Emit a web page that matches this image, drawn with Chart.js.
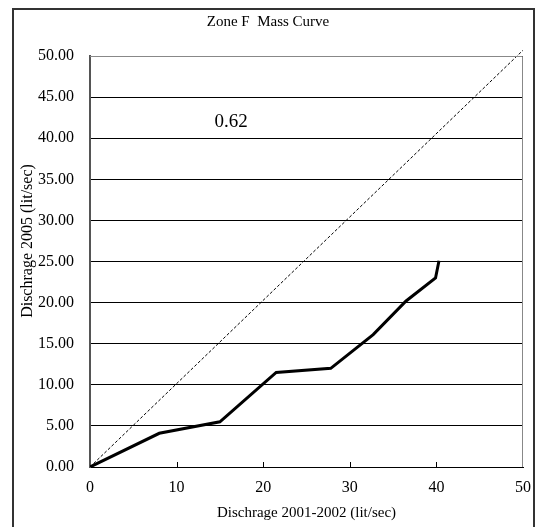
<!DOCTYPE html>
<html>
<head>
<meta charset="utf-8">
<script src="https://cdn.jsdelivr.net/npm/chart.js@4/dist/chart.umd.min.js"></script>
<style>
    html, body { margin: 0; padding: 0; background: #fff; }
    #wrap { width: 542px; height: 527px; }
</style>
</head>
<body>
<div id="wrap"><canvas id="massChart" width="542" height="527"></canvas></div>
<script>
// mass curve readings (lit/sec)
const xDischarge = [0, 8, 15, 21.5, 27.8, 32.7, 36.5, 39.9, 40.3];
const yDischarge = [0, 4.1, 5.5, 11.5, 12, 16.1, 20.2, 23, 25.1];
// reference 1:1 line
const refX = [0, 50];
const refY = [0, 50.7];

const chartTitle = "Zone F  Mass Curve";
const xTitle = "Dischrage 2001-2002 (lit/sec)";
const yTitle = "Dischrage 2005 (lit/sec)";
const ratioText = "0.62";
const ratioPos = [16.3, 42];

const FONT = "'Liberation Serif', 'Times New Roman', serif";

function toPoints(xs, ys) {
    return xs.map((x, i) => ({ x: x, y: ys[i] }));
}

const extras = {
    id: "extras",
    beforeDraw(chart) {
        const ctx = chart.ctx;
        ctx.save();
        ctx.fillStyle = "#fff";
        ctx.fillRect(0, 0, chart.width, chart.height);
        ctx.restore();
    },
    afterDraw(chart) {
        const ctx = chart.ctx;
        const a = chart.chartArea;
        const xs = chart.scales.x;
        const ys = chart.scales.y;
        ctx.save();

        // plot frame: grey top / right
        ctx.strokeStyle = "#888";
        ctx.lineWidth = 1;
        ctx.beginPath();
        ctx.moveTo(a.left, a.top + 0.5);
        ctx.lineTo(a.right - 0.5, a.top + 0.5);
        ctx.lineTo(a.right - 0.5, a.bottom);
        ctx.stroke();

        // small inside ticks on x axis
        ctx.strokeStyle = "#000";
        [10, 20, 30, 40].forEach(v => {
            const px = Math.round(xs.getPixelForValue(v)) + 0.5;
            ctx.beginPath();
            ctx.moveTo(px, a.bottom);
            ctx.lineTo(px, a.bottom - 5);
            ctx.stroke();
        });

        // title
        ctx.fillStyle = "#000";
        ctx.font = "15px " + FONT;
        ctx.textAlign = "center";
        ctx.textBaseline = "middle";
        ctx.fillText(chartTitle, 268, 22);

        // y axis title, sits a little above the plot middle
        ctx.save();
        ctx.translate(28, 241);
        ctx.rotate(-Math.PI / 2);
        ctx.font = "16px " + FONT;
        ctx.fillText(yTitle, 0, 0);
        ctx.restore();

        // ratio label
        ctx.font = "19px " + FONT;
        ctx.fillText(ratioText, xs.getPixelForValue(ratioPos[0]), ys.getPixelForValue(ratioPos[1]));

        // outer border
        ctx.strokeStyle = "#333";
        ctx.lineWidth = 2;
        ctx.strokeRect(13, 9, 521, 540);
        ctx.restore();
    }
};

new Chart(document.getElementById("massChart"), {
    type: "scatter",
    data: {
        datasets: [
            {
                label: "Mass curve",
                data: toPoints(xDischarge, yDischarge),
                showLine: true,
                borderColor: "#000",
                borderWidth: 3,
                pointRadius: 0,
                tension: 0
            },
            {
                label: "1:1",
                data: toPoints(refX, refY),
                showLine: true,
                borderColor: "#000",
                borderWidth: 1,
                borderDash: [3, 2],
                pointRadius: 0,
                clip: false
            }
        ]
    },
    options: {
        responsive: false,
        animation: false,
        layout: { padding: { top: 56, right: 16, left: 0, bottom: 0 } },
        plugins: {
            legend: { display: false },
            tooltip: { enabled: false },
            title: { display: false }
        },
        scales: {
            x: {
                type: "linear",
                min: 0,
                max: 50,
                afterFit: s => { s.height = 60; },
                ticks: {
                    stepSize: 10,
                    color: "#000",
                    padding: 11,
                    font: { family: FONT, size: 16 }
                },
                grid: { display: true, drawOnChartArea: false, drawTicks: false },
                border: { display: true, color: "#000", width: 1 },
                title: {
                    display: true,
                    text: xTitle,
                    color: "#000",
                    font: { family: FONT, size: 15 },
                    padding: { top: 0, bottom: 5 }
                }
            },
            y: {
                type: "linear",
                min: 0,
                max: 50,
                afterFit: s => { s.width = 90; },
                ticks: {
                    stepSize: 5,
                    color: "#000",
                    padding: 16,
                    font: { family: FONT, size: 16 },
                    callback: v => Number(v).toFixed(2)
                },
                grid: { color: "#000", lineWidth: 1, drawTicks: false },
                border: { display: true, color: "#555", width: 2 }
            }
        }
    },
    plugins: [extras]
});
</script>
</body>
</html>
